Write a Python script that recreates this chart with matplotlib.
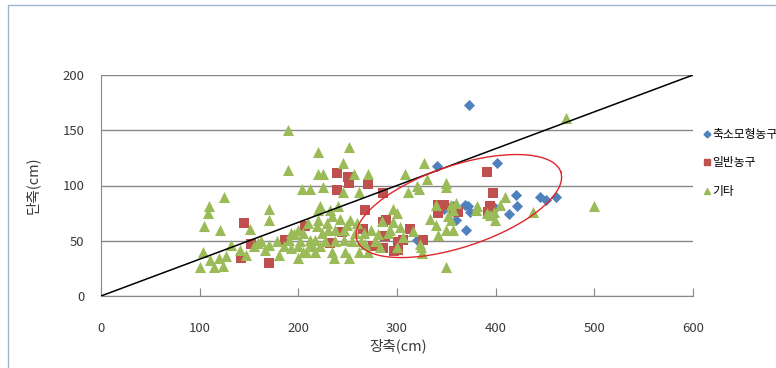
import matplotlib.pyplot as plt
import numpy as np
from matplotlib.lines import Line2D
from matplotlib.patches import Rectangle

plt.rcParams['font.family'] = ['Noto Sans CJK KR', 'DejaVu Sans']

# 장축 / 단축 (cm) per group
model_x = [373, 341, 401, 421, 445, 451, 461, 422, 414, 370, 372, 374, 357, 360,
           348, 355, 369, 320, 346, 399]
model_y = [173, 118, 120, 91, 90, 87, 90, 81, 74, 60, 81, 76, 81, 69,
           79, 81, 82, 51, 81, 80]

normal_x = [142, 145, 152, 170, 186, 207, 232, 239, 250, 239, 251, 271, 286, 268,
            266, 286, 289, 288, 286, 301, 306, 313, 326, 301, 297, 342, 348, 342,
            358, 362, 391, 397, 394, 392, 244, 276]
normal_y = [34, 66, 47, 30, 51, 63, 48, 111, 108, 96, 102, 101, 93, 78,
            61, 67, 69, 54, 43, 42, 51, 61, 51, 49, 41, 82, 82, 75,
            79, 76, 112, 93, 81, 76, 58, 45]

other_x = [100, 103, 104, 108, 109, 110, 115, 120, 121, 124, 125, 127,
           132, 141, 147, 151, 155, 159, 162, 166, 170, 170, 170, 178, 180, 185,
           190, 190, 191, 193, 193, 196, 200, 200, 200, 202, 204, 205, 205, 208,
           210, 212, 212, 213, 214, 217, 217, 219, 220, 220, 220, 220, 222, 222,
           224, 225, 225, 227, 229, 230, 232, 234, 234, 236, 237, 237, 240, 242,
           245, 245, 246, 247, 246, 251, 251, 252, 254, 256, 257, 261, 261, 264,
           267, 271, 271, 274, 278, 249, 259, 268, 281, 283, 293,
           285, 291, 296, 296, 300, 300, 303, 306, 308, 311, 316, 320, 322, 323,
           324, 325, 327, 330, 333, 340, 340, 342, 350, 350, 350, 350, 352, 355,
           355, 357, 357, 360, 380, 381, 391, 394, 398, 399, 404, 409, 438, 471,
           500]
other_y = [26, 40, 63, 75, 81, 33, 26, 34, 60, 27, 90, 36,
           46, 42, 37, 61, 45, 48, 50, 42, 46, 69, 79, 50, 37, 45,
           150, 114, 51, 43, 57, 56, 34, 45, 60, 50, 97, 57, 40, 40,
           66, 51, 97, 48, 45, 51, 40, 63, 130, 110, 78, 69, 81, 45,
           57, 110, 99, 50, 66, 60, 78, 72, 40, 34, 60, 50, 81, 70,
           94, 120, 60, 40, 51, 135, 34, 69, 50, 110, 57, 94, 40, 50,
           57, 110, 40, 60, 50, 64, 66, 47, 56, 44, 60,
           68, 57, 79, 67, 75, 44, 62, 53, 110, 94, 59, 100, 97, 47,
           44, 39, 120, 106, 70, 82, 64, 55, 102, 99, 60, 26, 72, 82,
           69, 60, 78, 84, 78, 81, 75, 73, 76, 69, 82, 90, 76, 161,
           81]

labels = ['축소모형농구', '일반농구', '기타']
colors = ['#4F81BD', '#C0504D', '#9BBB59']

# reference line y = x/3 and the highlighted region
line_x = [0, 600]
line_y = [0, 200]
ell_center = (362.7, 81.4)
ell_u = (103.3, 30.8)
ell_v = (13.1, -35.0)

fig = plt.figure(figsize=(7.76, 3.68), dpi=100)
fig.patches.append(Rectangle((8 / 776, -0.1), 1.0, 1 - 5 / 368 + 0.1,
                             transform=fig.transFigure, fill=False,
                             edgecolor='#9DB3CF', linewidth=1.0))
ax = fig.add_axes([101 / 776, 1 - 296 / 368, 592 / 776, 221 / 368])

ax.scatter(model_x, model_y, marker='D', s=32, color=colors[0], linewidths=0, zorder=3)
ax.scatter(normal_x, normal_y, marker='s', s=52, color=colors[1], linewidths=0, zorder=4)
ax.scatter(other_x, other_y, marker='^', s=64, color=colors[2], linewidths=0, zorder=5)

ax.plot(line_x, line_y, color='black', linewidth=1.1, zorder=6)

t = np.linspace(0, 2 * np.pi, 200)
ex = ell_center[0] + ell_u[0] * np.cos(t) + ell_v[0] * np.sin(t)
ey = ell_center[1] + ell_u[1] * np.cos(t) + ell_v[1] * np.sin(t)
ax.plot(ex, ey, color='#E0262B', linewidth=1.0, zorder=7)

ax.set_xlim(0, 600)
ax.set_ylim(0, 200)
ax.set_xticks(np.arange(0, 601, 100))
ax.set_yticks(np.arange(0, 201, 50))
ax.grid(axis='y', color='#878787', linewidth=1.0)
ax.set_axisbelow(True)
for side in ['top', 'right']:
    ax.spines[side].set_visible(False)
for side in ['left', 'bottom']:
    ax.spines[side].set_color('#878787')
ax.tick_params(axis='x', direction='in', length=6, color='#878787', pad=19,
               labelsize=9.5, labelcolor='#3a3a3a')
ax.tick_params(axis='y', length=0, pad=12, labelsize=9.5, labelcolor='#3a3a3a')

ax.set_xlabel('장축(cm)', fontsize=10.5, color='#3a3a3a')
ax.xaxis.set_label_coords(0.502, -0.19)
ax.set_ylabel('단축(cm)', fontsize=10.5, color='#3a3a3a')
ax.yaxis.set_label_coords(-0.104, 0.5)

handles = [
    Line2D([], [], linestyle='none', marker='D', markersize=3.5, color=colors[0]),
    Line2D([], [], linestyle='none', marker='s', markersize=5, color=colors[1]),
    Line2D([], [], linestyle='none', marker='^', markersize=5, color=colors[2]),
]
fig.legend(handles, labels, loc='upper left', bbox_to_anchor=(704 / 776, 1 - 128 / 368),
           frameon=False, fontsize=8.5, handlelength=0.5, handletextpad=0.2,
           labelspacing=1.3, borderaxespad=0, borderpad=0)

fig.savefig('out.png', dpi=100)
